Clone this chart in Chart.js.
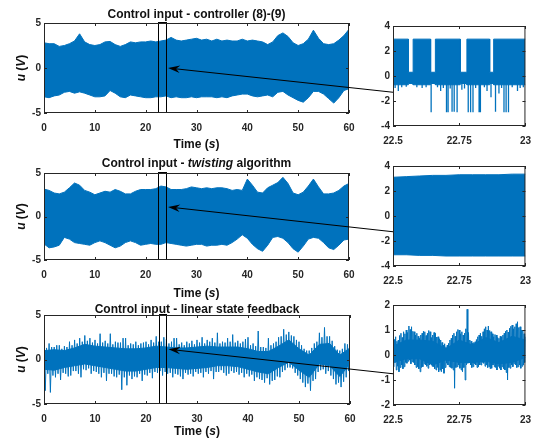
<!DOCTYPE html>
<html>
<head>
<meta charset="utf-8">
<script src="https://cdn.jsdelivr.net/npm/chart.js@4"></script>
<style>
  html, body { margin: 0; padding: 0; background: #fff; }
  #wrap { position: relative; width: 540px; height: 443px; }
  #wrap canvas { position: absolute; left: 0; top: 0; width: 540px; height: 443px; }
</style>
</head>
<body>
<div id="wrap">
  <canvas id="main1" width="540" height="443"></canvas>
  <canvas id="zoom1" width="540" height="443"></canvas>
  <canvas id="main2" width="540" height="443"></canvas>
  <canvas id="zoom2" width="540" height="443"></canvas>
  <canvas id="main3" width="540" height="443"></canvas>
  <canvas id="zoom3" width="540" height="443"></canvas>
  <canvas id="arrows" width="540" height="443"></canvas>
</div>
<script>
const FONT = '"Liberation Sans", Arial, Helvetica, sans-serif';
const INK = '#262626';
const BLUE = '#0072BD';

// tick labels
const mainXTicks = [0, 10, 20, 30, 40, 50, 60];
const mainYTicks = [-5, 0, 5];
const zoomXTicks = [22.5, 22.75, 23];
const zoomYTicksSmc = [-4, -2, 0, 2, 4];
const zoomYTicksLin = [-2, -1, 0, 1, 2];

// full run, one sample per second (envelopes)
const timeSec = [0, 1, 2, 3, 4, 5, 6, 7, 8, 9, 10, 11, 12, 13, 14, 15, 16, 17, 18, 19, 20,
  21, 22, 23, 24, 25, 26, 27, 28, 29, 30, 31, 32, 33, 34, 35, 36, 37, 38, 39, 40,
  41, 42, 43, 44, 45, 46, 47, 48, 49, 50, 51, 52, 53, 54, 55, 56, 57, 58, 59, 60];

// controller (8)-(9)
const ctrlUpper = [2.8, 2.7, 2.7, 2.4, 2.5, 2.7, 3.0, 3.8, 2.9, 2.6,
  2.5, 2.6, 2.9, 2.95, 2.6, 2.4, 2.6, 2.9, 2.8, 2.9,
  2.9, 3.0, 2.9, 3.0, 3.1, 3.4, 3.1, 3.0, 3.1, 3.2,
  3.3, 3.1, 3.2, 3.0, 3.2, 3.0, 3.1, 3.0, 3.0, 3.2,
  3.0, 3.1, 3.0, 2.9, 2.6, 2.9, 3.6, 3.9, 3.5, 2.8,
  2.5, 2.7, 3.2, 4.2, 3.3, 2.7, 2.6, 2.7, 3.1, 3.6, 4.3];
const ctrlLower = [-3.2, -3.3, -3.1, -3.0, -2.7, -2.6, -2.8, -2.65, -2.8, -3.0,
  -3.2, -3.2, -3.1, -2.5, -2.8, -3.2, -3.3, -3.0, -3.1, -3.2,
  -3.3, -3.3, -3.2, -3.2, -3.1, -3.3, -3.2, -3.3, -3.3, -3.2,
  -3.3, -3.2, -3.2, -3.2, -3.3, -3.2, -3.3, -3.1, -3.0, -2.9,
  -2.9, -3.1, -3.2, -3.1, -3.0, -3.2, -2.7, -2.6, -3.0, -3.3,
  -3.6, -3.8, -3.3, -2.6, -2.6, -2.9, -3.4, -3.9, -3.3, -2.5, -2.3];
const ctrlGapTime = [27.5, 28.8];
const ctrlGapTop = [-0.8, -0.8];
const ctrlGapBottom = [-2.6, -2.8];

// twisting algorithm
const twUpper = [3.15, 3.0, 2.7, 2.6, 2.8, 3.3, 3.85, 3.6, 3.0, 2.8,
  2.5, 2.7, 2.9, 2.8, 3.1, 2.9, 2.6, 2.6, 2.9, 3.1,
  3.1, 3.1, 3.2, 3.5, 3.4, 3.1, 3.1, 3.1, 3.2, 3.4,
  3.3, 3.2, 3.3, 3.2, 3.3, 3.3, 3.2, 3.0, 3.1, 3.0,
  4.3, 3.6, 2.8, 2.7, 3.3, 3.6, 3.9, 4.5, 3.8, 2.7,
  2.5, 2.8, 3.5, 4.3, 3.4, 2.6, 2.6, 2.7, 3.0, 3.5, 3.8];
const twLower = [-3.15, -3.6, -3.5, -3.3, -2.4, -2.6, -3.0, -3.1, -3.2, -3.3,
  -3.0, -2.8, -3.0, -3.3, -3.6, -3.4, -3.0, -2.8, -3.0, -3.3,
  -3.2, -3.1, -3.2, -3.2, -3.0, -3.1, -3.2, -3.3, -3.4, -3.3,
  -3.2, -3.2, -3.4, -3.3, -3.3, -3.2, -3.3, -3.0, -2.6, -2.1,
  -2.5, -3.2, -3.7, -4.0, -3.3, -2.4, -2.3, -2.5, -3.0, -3.7,
  -4.1, -3.4, -2.6, -2.4, -2.5, -3.0, -3.6, -3.8, -3.3, -2.7, -2.6];

// linear state feedback: top and bottom of the jitter every half second
const timeHalf = [0, 0.5, 1, 1.5, 2, 2.5, 3, 3.5, 4, 4.5, 5, 5.5, 6, 6.5, 7, 7.5, 8, 8.5, 9, 9.5,
  10, 10.5, 11, 11.5, 12, 12.5, 13, 13.5, 14, 14.5, 15, 15.5, 16, 16.5, 17, 17.5, 18, 18.5, 19, 19.5,
  20, 20.5, 21, 21.5, 22, 22.5, 23, 23.5, 24, 24.5, 25, 25.5, 26, 26.5, 27, 27.5, 28, 28.5, 29, 29.5,
  30, 30.5, 31, 31.5, 32, 32.5, 33, 33.5, 34, 34.5, 35, 35.5, 36, 36.5, 37, 37.5, 38, 38.5, 39, 39.5,
  40, 40.5, 41, 41.5, 42, 42.5, 43, 43.5, 44, 44.5, 45, 45.5, 46, 46.5, 47, 47.5, 48, 48.5, 49, 49.5,
  50, 50.5, 51, 51.5, 52, 52.5, 53, 53.5, 54, 54.5, 55, 55.5, 56, 56.5, 57, 57.5, 58, 58.5, 59, 59.5, 60];
const linHigh = [1.5, 1.3, 1.8, 1.4, 1.4, 1.6, 1.6, 1.2, 1.5, 1.4, 2.0, 1.6, 2.2, 1.8, 2.4, 2.0, 2.7, 2.1, 2.4, 1.9,
  2.2, 1.8, 2.9, 1.9, 2.1, 1.8, 2.9, 1.7, 2.0, 1.9, 1.9, 2.4, 2.4, 1.6, 1.8, 1.7, 2.0, 1.6, 1.8, 1.9,
  2.0, 1.7, 2.2, 1.9, 2.6, 2.0, 2.0, 2.5, 2.3, 1.8, 2.0, 2.4, 2.4, 1.7, 1.9, 1.6, 2.0, 1.8, 2.1, 1.7,
  2.2, 1.9, 2.5, 1.8, 2.2, 2.0, 2.4, 1.9, 3.0, 1.8, 2.0, 1.9, 2.4, 2.0, 2.8, 1.9, 2.1, 1.8, 2.0, 2.3,
  2.5, 1.6, 1.8, 1.5, 3.2, 1.4, 1.4, 1.3, 2.4, 1.6, 1.8, 2.0, 2.5, 2.6, 3.4, 2.8, 3.1, 2.7, 2.6, 2.2,
  2.0, 1.6, 1.2, 1.0, 1.0, 1.3, 1.8, 2.0, 3.0, 2.5, 3.6, 2.6, 2.6, 2.1, 1.5, 1.1, 1.0, 1.2, 1.8, 1.7, 2.1];
const linLow = [-3.5, -1.6, -3.7, -1.8, -2.0, -1.6, -2.3, -1.5, -1.6, -1.9, -1.8, -1.3, -1.3, -1.6, -2.0, -1.1, -1.2, -1.0, -1.6, -1.3,
  -1.4, -1.6, -2.0, -1.5, -2.4, -1.6, -1.6, -1.9, -2.0, -1.7, -3.4, -2.0, -2.9, -1.8, -2.2, -1.9, -2.0, -1.6, -2.4, -1.7,
  -1.8, -1.5, -2.1, -1.4, -1.5, -1.3, -1.8, -1.4, -1.6, -1.5, -2.0, -1.6, -1.7, -1.9, -2.2, -1.5, -1.7, -1.6, -1.9, -1.4,
  -1.6, -1.5, -2.0, -1.4, -1.6, -1.3, -2.2, -1.4, -1.4, -1.2, -1.5, -1.8, -1.6, -1.3, -1.5, -1.4, -1.7, -1.5, -2.0, -1.6,
  -1.9, -1.7, -2.4, -2.0, -2.2, -2.3, -2.6, -2.1, -2.8, -2.4, -2.3, -1.9, -2.0, -1.4, -1.2, -0.9, -0.9, -1.0, -1.5, -1.8,
  -2.2, -2.6, -3.1, -2.7, -3.5, -2.4, -2.2, -1.4, -1.2, -1.1, -1.6, -1.3, -1.8, -2.2, -2.8, -2.6, -3.1, -2.5, -2.0, -1.3, -1.2];
// dense core of the same signal, every 2 s
const linCoreTime = [0, 2, 4, 6, 8, 10, 12, 14, 16, 18, 20, 22, 24, 26, 28, 30,
  32, 34, 36, 38, 40, 42, 44, 46, 48, 50, 52, 54, 56, 58, 60];
const linCoreHigh = [1.0, 1.1, 1.0, 1.3, 1.7, 1.5, 1.4, 1.3, 1.2, 1.2, 1.3, 1.5, 1.4, 1.3, 1.3, 1.4,
  1.5, 1.4, 1.4, 1.4, 1.2, 0.9, 0.9, 1.5, 2.2, 1.2, 0.5, 1.7, 1.8, 0.5, 1.3];
const linCoreLow = [-1.1, -1.2, -0.9, -0.7, -0.5, -0.7, -0.9, -1.1, -1.3, -1.3, -1.1, -0.9, -0.9, -1.0, -1.1, -1.0,
  -0.9, -0.7, -0.7, -0.8, -1.1, -1.4, -1.6, -0.9, -0.3, -1.2, -2.0, -0.5, -0.7, -1.9, -0.5];

// zoom 22.5 - 23 s, controller (8)-(9): bursts and quiet stretches
const ctrlZoomEdges = [22.5, 22.558, 22.576, 22.642, 22.66, 22.754, 22.779, 22.865, 22.88, 23];
const ctrlZoomTop = [2.95, 0.3, 2.95, 0.3, 2.95, 0.3, 2.95, 0.3, 2.95];
const ctrlZoomBottom = [-0.7, -0.6, -0.7, -0.6, -0.7, -0.6, -0.7, -0.6, -0.7];
const ctrlZoomSpikeTime = [22.508, 22.52, 22.533, 22.55, 22.59, 22.61, 22.625, 22.644, 22.668, 22.68,
  22.69, 22.702, 22.708, 22.716, 22.723, 22.731, 22.742, 22.76, 22.77, 22.784, 22.793, 22.802, 22.812, 22.825, 22.83,
  22.845, 22.855, 22.87, 22.887, 22.9, 22.91, 22.919, 22.927, 22.936, 22.95, 22.97, 22.98, 22.992];
const ctrlZoomSpikeDepth = [-0.95, -1.2, -0.9, -0.85, -0.9, -0.95, -0.9, -2.9, -0.9, -1.2,
  -0.95, -2.9, -2.9, -1.0, -2.85, -2.85, -2.9, -1.1, -1.0, -2.9, -2.9, -2.9, -0.95, -2.9, -2.9,
  -0.9, -1.2, -1.7, -2.85, -1.4, -0.95, -2.9, -2.9, -2.9, -0.9, -1.2, -0.95, -0.9];
const ctrlZoomGapTime = [22.526, 22.541, 22.604, 22.708, 22.746, 22.789, 22.858, 22.89, 22.927, 22.984];
const ctrlZoomGapBottom = [0.8, 0.3, 1.2, 1.5, 0.9, 1.3, 0.5, 1.0, 1.4, 1.1];

// zoom, twisting
const twZoomTime = [22.5, 22.55, 22.6, 22.65, 22.7, 22.75, 22.8, 22.85, 22.9, 22.95, 23];
const twZoomUpper = [3.1, 3.15, 3.2, 3.25, 3.25, 3.3, 3.3, 3.3, 3.3, 3.35, 3.35];
const twZoomLower = [-3.1, -3.1, -3.15, -3.15, -3.2, -3.2, -3.2, -3.2, -3.2, -3.2, -3.2];

// zoom, linear state feedback (every 5 ms: top and bottom of the jitter)
const linZoomTime = [22.500, 22.505, 22.510, 22.515, 22.520, 22.525, 22.530, 22.535, 22.540, 22.545,
  22.550, 22.555, 22.560, 22.565, 22.570, 22.575, 22.580, 22.585, 22.590, 22.595,
  22.600, 22.605, 22.610, 22.615, 22.620, 22.625, 22.630, 22.635, 22.640, 22.645,
  22.650, 22.655, 22.660, 22.665, 22.670, 22.675, 22.680, 22.685, 22.690, 22.695,
  22.700, 22.705, 22.710, 22.715, 22.720, 22.725, 22.730, 22.735, 22.740, 22.745,
  22.750, 22.755, 22.760, 22.765, 22.770, 22.775, 22.780, 22.785, 22.790, 22.795,
  22.800, 22.805, 22.810, 22.815, 22.820, 22.825, 22.830, 22.835, 22.840, 22.845,
  22.850, 22.855, 22.860, 22.865, 22.870, 22.875, 22.880, 22.885, 22.890, 22.895,
  22.900, 22.905, 22.910, 22.915, 22.920, 22.925, 22.930, 22.935, 22.940, 22.945,
  22.950, 22.955, 22.960, 22.965, 22.970, 22.975, 22.980, 22.985, 22.990, 22.995, 23.000];
const linZoomHigh = [0.47, 0.62, 0.73, 0.55, 0.6, 0.78, 0.87, 0.7, 0.93, 0.85,
  1.0, 0.9, 1.16, 1.02, 1.13, 0.95, 0.93, 0.8, 0.87, 0.75,
  0.67, 0.8, 0.87, 0.95, 0.93, 0.78, 0.87, 0.98, 0.93, 0.7,
  0.8, 0.9, 0.87, 0.72, 0.73, 0.65, 0.6, 0.5, 0.4, 0.45,
  0.33, 0.4, 0.47, 0.6, 0.67, 0.8, 0.87, 0.75, 0.93, 1.02,
  1.0, 0.85, 0.93, 0.8, 0.87, 1.05, 1.83, 0.9, 0.6, 0.55,
  0.47, 0.5, 0.53, 0.62, 0.73, 0.8, 0.87, 0.75, 0.93, 1.05,
  1.13, 1.0, 1.16, 0.98, 0.93, 0.85, 0.73, 0.82, 0.8, 0.7,
  0.67, 0.75, 0.73, 0.8, 0.87, 0.95, 1.0, 0.92, 1.07, 1.15,
  1.2, 1.05, 1.13, 1.25, 1.33, 1.1, 1.13, 1.0, 1.0, 0.85, 0.73];
const linZoomLow = [-0.47, -0.3, -0.6, -0.45, -0.67, -0.5, -0.4, -0.55, -0.47, -0.3,
  -0.33, -0.25, -0.2, -0.35, -0.27, -0.3, -0.4, -0.5, -0.47, -0.55,
  -0.67, -0.5, -0.47, -0.35, -0.4, -0.45, -0.53, -0.4, -0.33, -0.45,
  -0.47, -0.55, -0.6, -0.5, -0.67, -0.6, -0.67, -0.55, -0.73, -0.5,
  -0.33, -0.4, -0.47, -0.5, -0.53, -0.6, -1.33, -0.5, -0.47, -0.4,
  -0.53, -0.6, -0.67, -0.5, -1.0, -0.4, -0.33, -0.3, -0.4, -0.5,
  -0.47, -0.35, -0.4, -0.5, -0.47, -0.4, -0.4, -0.3, -0.33, -0.45,
  -0.4, -0.5, -0.47, -0.55, -0.53, -0.4, -0.47, -0.5, -0.6, -0.45,
  -0.53, -0.6, -0.47, -0.55, -0.6, -0.7, -1.0, -0.5, -0.53, -0.4,
  -0.47, -0.35, -0.4, -0.5, -0.47, -0.4, -0.53, -0.45, -0.4, -0.3, -0.2];
const linZoomCoreTime = [22.5, 22.55, 22.6, 22.65, 22.7, 22.75, 22.8, 22.85, 22.9, 22.95, 23];
const linZoomCoreHigh = [0.35, 0.6, 0.6, 0.55, 0.25, 0.6, 0.4, 0.7, 0.5, 0.75, 0.6];
const linZoomCoreLow = [-0.3, -0.15, -0.15, -0.4, -0.2, -0.3, -0.3, -0.25, -0.35, -0.3, -0.1];

// ---- helpers to turn the arrays into point lists ----
const pts = (xs, ys) => xs.map((x, i) => ({ x: x, y: ys[i] }));

function zigzag(xs, hi, lo) {
  const out = [];
  xs.forEach((x, i) => {
    out.push({ x: x, y: hi[i] });
    if (i < xs.length - 1) out.push({ x: (x + xs[i + 1]) / 2, y: lo[i] });
  });
  return out;
}

function steps(edges, vals) {
  const out = [];
  vals.forEach((v, i) => {
    out.push({ x: edges[i], y: v });
    out.push({ x: edges[i + 1], y: v });
  });
  return out;
}

function verticals(ts, from, to) {
  const out = [];
  ts.forEach((t, i) => {
    out.push({ x: t, y: from[i] }, { x: t, y: to[i] }, { x: t, y: null });
  });
  return out;
}

function band(upper, lower) {
  return [
    { data: upper, borderColor: BLUE, backgroundColor: BLUE, borderWidth: 1, pointRadius: 0, fill: '+1' },
    { data: lower, borderColor: BLUE, borderWidth: 1, pointRadius: 0, fill: false }
  ];
}

function line(data, color, width) {
  return { data: data, borderColor: color, borderWidth: width, pointRadius: 0, fill: false };
}

// ---- text with italic pieces ----
function richText(ctx, parts, x, y, size, rotate) {
  ctx.save();
  ctx.translate(x, y);
  if (rotate) ctx.rotate(-Math.PI / 2);
  ctx.fillStyle = '#111';
  ctx.textBaseline = 'alphabetic';
  ctx.textAlign = 'left';
  const fonts = parts.map(p => (p.it ? 'italic ' : '') + 'bold ' + size + 'px ' + FONT);
  let w = 0;
  parts.forEach((p, i) => { ctx.font = fonts[i]; w += ctx.measureText(p.t).width; });
  let cx = -w / 2;
  parts.forEach((p, i) => {
    ctx.font = fonts[i];
    ctx.fillText(p.t, cx, 0);
    cx += ctx.measureText(p.t).width;
  });
  ctx.restore();
}

// box, inward ticks, zoom rectangle and labels, MATLAB style
const framePlugin = {
  id: 'frame',
  afterDatasetsDraw(chart, args, o) {
    const { ctx, chartArea: a } = chart;
    const xs = chart.scales.x, ys = chart.scales.y;
    const TL = 3;
    ctx.save();
    if (o.rect) {
      const x0 = Math.round(xs.getPixelForValue(o.rect[0]));
      const x1 = Math.round(xs.getPixelForValue(o.rect[1]));
      ctx.strokeStyle = '#000';
      ctx.lineWidth = 1;
      ctx.strokeRect(x0 + 0.5, a.top - 0.5, x1 - x0, a.bottom - a.top);
    }
    ctx.strokeStyle = INK;
    ctx.lineWidth = 1;
    ctx.beginPath();
    xs.ticks.forEach(t => {
      const p = Math.round(xs.getPixelForValue(t.value)) + 0.5;
      ctx.moveTo(p, a.bottom); ctx.lineTo(p, a.bottom - TL);
      ctx.moveTo(p, a.top); ctx.lineTo(p, a.top + TL);
    });
    ys.ticks.forEach(t => {
      const p = Math.round(ys.getPixelForValue(t.value)) + 0.5;
      ctx.moveTo(a.left, p); ctx.lineTo(a.left + TL, p);
      ctx.moveTo(a.right, p); ctx.lineTo(a.right - TL, p);
    });
    ctx.stroke();
    ctx.strokeRect(a.left + 0.5, a.top + 0.5, a.right - a.left - 1, a.bottom - a.top - 1);
    const mid = (a.left + a.right) / 2;
    if (o.title) richText(ctx, o.title, mid, a.top + o.titleDy, 12, false);
    if (o.xlabel) richText(ctx, [{ t: 'Time (' }, { t: 's', it: true }, { t: ')' }], mid, a.bottom + o.xlabelDy, 12, false);
    if (o.ylabel) richText(ctx, [{ t: 'u', it: true }, { t: ' (' }, { t: 'V', it: true }, { t: ')' }], 24.5, (a.top + a.bottom) / 2, 12, true);
    ctx.restore();
  }
};

function axis(min, max, ticks, fit) {
  return {
    type: 'linear', min: min, max: max,
    grid: { display: false, drawTicks: false },
    border: { display: false },
    afterBuildTicks: s => { s.ticks = ticks.map(v => ({ value: v })); },
    afterFit: fit,
    ticks: {
      color: INK, autoSkip: false, maxRotation: 0, padding: 3,
      font: { family: FONT, size: 10, weight: 'bold' },
      callback: v => String(v)
    }
  };
}

function panel(id, box, opt) {
  const YW = 30, XH = 22;
  const xAxis = axis(opt.x[0], opt.x[1], opt.xTicks, s => { s.height = XH; });
  xAxis.ticks.padding = 9;
  const yAxis = axis(opt.y[0], opt.y[1], opt.yTicks, s => { s.width = YW; });
  return new Chart(document.getElementById(id), {
    type: 'line',
    data: { datasets: opt.datasets },
    options: {
      responsive: false,
      animation: false,
      events: [],
      spanGaps: false,
      elements: { line: { tension: 0 } },
      layout: { padding: { left: box.left - YW, right: 540 - box.right, top: box.top, bottom: 443 - box.bottom - XH } },
      plugins: { legend: { display: false }, tooltip: { enabled: false }, title: { display: false }, frame: opt.frame || {} },
      scales: { x: xAxis, y: yAxis }
    },
    plugins: [framePlugin]
  });
}

// ---- the six axes ----
const main1 = panel('main1', { left: 44, right: 349, top: 23, bottom: 113 }, {
  x: [0, 60], y: [-5, 5], xTicks: mainXTicks, yTicks: mainYTicks,
  datasets: band(pts(timeSec, ctrlUpper), pts(timeSec, ctrlLower)).concat([
    line(verticals(ctrlGapTime, ctrlGapTop, ctrlGapBottom), '#ffffff', 1.5)
  ]),
  frame: { rect: [22.5, 24], title: [{ t: 'Control input - controller (8)-(9)' }], titleDy: -5.5, xlabel: true, xlabelDy: 35, ylabel: true }
});

const zoom1 = panel('zoom1', { left: 393, right: 526, top: 26, bottom: 126 }, {
  x: [22.5, 23], y: [-4, 4], xTicks: zoomXTicks, yTicks: zoomYTicksSmc,
  datasets: band(steps(ctrlZoomEdges, ctrlZoomTop), steps(ctrlZoomEdges, ctrlZoomBottom)).concat([
    line(verticals(ctrlZoomGapTime, ctrlZoomGapTime.map(() => 3.0), ctrlZoomGapBottom), '#ffffff', 0.8),
    line(verticals(ctrlZoomSpikeTime, ctrlZoomSpikeTime.map(() => -0.6), ctrlZoomSpikeDepth), BLUE, 1.3)
  ])
});

const main2 = panel('main2', { left: 44, right: 349, top: 173, bottom: 260 }, {
  x: [0, 60], y: [-5, 5], xTicks: mainXTicks, yTicks: mainYTicks,
  datasets: band(pts(timeSec, twUpper), pts(timeSec, twLower)),
  frame: { rect: [22.5, 24], title: [{ t: 'Control input - ' }, { t: 'twisting', it: true }, { t: ' algorithm' }], titleDy: -5.7, xlabel: true, xlabelDy: 36.5, ylabel: true }
});

const zoom2 = panel('zoom2', { left: 393, right: 526, top: 166, bottom: 266 }, {
  x: [22.5, 23], y: [-4, 4], xTicks: zoomXTicks, yTicks: zoomYTicksSmc,
  datasets: band(pts(twZoomTime, twZoomUpper), pts(twZoomTime, twZoomLower))
});

const main3 = panel('main3', { left: 44, right: 350, top: 315, bottom: 404 }, {
  x: [0, 60], y: [-5, 5], xTicks: mainXTicks, yTicks: mainYTicks,
  datasets: band(pts(linCoreTime, linCoreHigh), pts(linCoreTime, linCoreLow)).concat([
    line(zigzag(timeHalf, linHigh, linLow), BLUE, 1)
  ]),
  frame: { rect: [22.5, 24], title: [{ t: 'Control input - linear state feedback' }], titleDy: -2, xlabel: true, xlabelDy: 31, ylabel: true }
});

const zoom3 = panel('zoom3', { left: 393, right: 526, top: 305, bottom: 405 }, {
  x: [22.5, 23], y: [-2, 2], xTicks: zoomXTicks, yTicks: zoomYTicksLin,
  datasets: band(pts(linZoomCoreTime, linZoomCoreHigh), pts(linZoomCoreTime, linZoomCoreLow)).concat([
    line(zigzag(linZoomTime, linZoomHigh, linZoomLow), BLUE, 1)
  ])
});

// ---- arrows from each zoom axis back to its window ----
function drawArrows() {
  const cv = document.getElementById('arrows');
  const dpr = window.devicePixelRatio || 1;
  cv.width = 540 * dpr; cv.height = 443 * dpr;
  const ctx = cv.getContext('2d');
  ctx.scale(dpr, dpr);
  const links = [
    { main: main1, zoom: zoom1, head: 0, tail: -1.3 },
    { main: main2, zoom: zoom2, head: 1.1, tail: -1.26 },
    { main: main3, zoom: zoom3, head: 1.15, tail: -0.75 }
  ];
  links.forEach(l => {
    const hx = l.main.scales.x.getPixelForValue(24.4), hy = l.main.scales.y.getPixelForValue(l.head);
    const tx = l.zoom.scales.x.getPixelForValue(22.5), ty = l.zoom.scales.y.getPixelForValue(l.tail);
    const len = Math.hypot(hx - tx, hy - ty);
    const dx = (hx - tx) / len, dy = (hy - ty) / len;
    const nx = -dy, ny = dx;
    const L = 12, W = 3.8, N = 8;
    ctx.strokeStyle = '#000';
    ctx.fillStyle = '#000';
    ctx.lineWidth = 1;
    ctx.beginPath();
    ctx.moveTo(tx, ty);
    ctx.lineTo(hx - dx * N, hy - dy * N);
    ctx.stroke();
    ctx.beginPath();
    ctx.moveTo(hx, hy);
    ctx.lineTo(hx - dx * L + nx * W, hy - dy * L + ny * W);
    ctx.lineTo(hx - dx * N, hy - dy * N);
    ctx.lineTo(hx - dx * L - nx * W, hy - dy * L - ny * W);
    ctx.closePath();
    ctx.fill();
  });
}
drawArrows();
</script>
</body>
</html>
